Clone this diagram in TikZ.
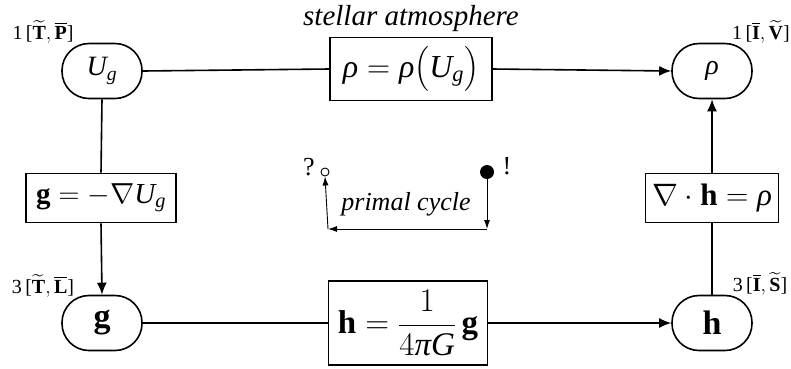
\RequirePackage{fix-cm}
\documentclass[tikz,border=0pt]{standalone}
\usepackage{amsmath}
\usepackage{fontspec}
\setmainfont{Liberation Serif}
\usetikzlibrary{arrows.meta}
\newcommand\Vrho{\text{\itshape ρ}}
\newcommand\Vpi{\text{\itshape π}}
\newcommand\VUg{\mathit{U}_{\mathit{g}}}
\tikzset{
  state/.style={draw, line width=1.6pt, rounded corners=27pt, minimum width=80pt, minimum height=55pt, inner sep=0pt, font=\fontsize{28}{30}\selectfont},
  eqbox/.style={draw, line width=1.6pt, inner sep=0pt, font=\fontsize{31}{33}\selectfont},
  conn/.style={line width=1.6pt},
  arr/.style={line width=1.6pt, -{Latex[length=12pt,width=10pt]}},
  thin arr/.style={line width=0.9pt, -{Latex[length=9pt,width=6pt]}},
  lab/.style={font=\fontsize{20}{22}\selectfont, inner sep=0pt},
  ital/.style={font=\fontsize{29}{31}\selectfont\itshape, inner sep=0pt}
}
\begin{document}
\begin{tikzpicture}[x=1pt,y=-1pt]
\useasboundingbox (0,0) rectangle (791,368);
% state nodes
\node[state] (Ug) at (102,71) {$\VUg$};
\node[state] (rho) at (712,71) {$\Vrho$};
\node[state, font=\fontsize{34}{36}\selectfont] (g) at (102,323) {$\mathbf{g}$};
\node[state, font=\fontsize{34}{36}\selectfont] (h) at (712,323) {$\mathbf{h}$};
% equation boxes
\node[eqbox, minimum width=162pt, minimum height=63pt, font=\fontsize{32}{44}\selectfont] (top) at (411,69) {$\Vrho=\Vrho\bigl(\VUg\bigr)$};
\node[eqbox, minimum width=150pt, minimum height=49pt, font=\fontsize{29}{31}\selectfont] (left) at (101,198) {$\mathbf{g}=-\nabla \VUg$};
\node[eqbox, minimum width=133pt, minimum height=49pt] (right) at (712,198) {$\nabla\cdot\mathbf{h}=\Vrho$};
\node[eqbox, minimum width=159pt, minimum height=84pt, font=\fontsize{33}{35}\selectfont] (bot) at (408,323) {$\mathbf{h}=\dfrac{1}{4\Vpi\mathit{G}}\,\mathbf{g}$};
% labels
\node[lab] (l1) at (43,32) {1\,[$\widetilde{\mathbf{T}},\overline{\mathbf{P}}$]};
\node[lab] (l2) at (761,32) {1\,[$\overline{\mathbf{I}},\widetilde{\mathbf{V}}$]};
\node[lab] (l3) at (43,286) {3\,[$\widetilde{\mathbf{T}},\overline{\mathbf{L}}$]};
\node[lab] (l4) at (760,284) {3\,[$\overline{\mathbf{I}},\widetilde{\mathbf{S}}$]};
\node[ital] (stellar) at (411,19) {stellar atmosphere};
% connectors
\draw[conn] (Ug.east) -- (top.west);
\draw[arr] (top.east) -- (rho.west);
\draw[conn] (g.east) -- (bot.west);
\draw[arr] (bot.east) -- (h.west);
\draw[conn] (Ug.south) -- (left.north);
\draw[arr] (left.south) -- (g.north);
\draw[conn] (h.north) -- (right.south);
\draw[arr] (right.north) -- (rho.south);
% primal cycle
\node[circle, draw, line width=0.9pt, minimum size=8pt, inner sep=0pt] (open) at (325,172) {};
\node[circle, fill, minimum size=14pt, inner sep=0pt] (full) at (487,172) {};
\coordinate (cr) at (487,229);
\coordinate (cl) at (328,229);
\draw[thin arr] (full.south) -- (cr);
\draw[thin arr] (cr) -- (cl);
\draw[thin arr] (cl) -- (open.south);
\node[font=\fontsize{26}{28}\selectfont\itshape, inner sep=0pt] (pc) at (406,204) {primal cycle};
\node[font=\fontsize{26}{28}\selectfont, inner sep=0pt] (q) at (309,167) {?};
\node[font=\fontsize{26}{28}\selectfont, inner sep=0pt] (ex) at (507,166) {!};
\end{tikzpicture}
\end{document}
